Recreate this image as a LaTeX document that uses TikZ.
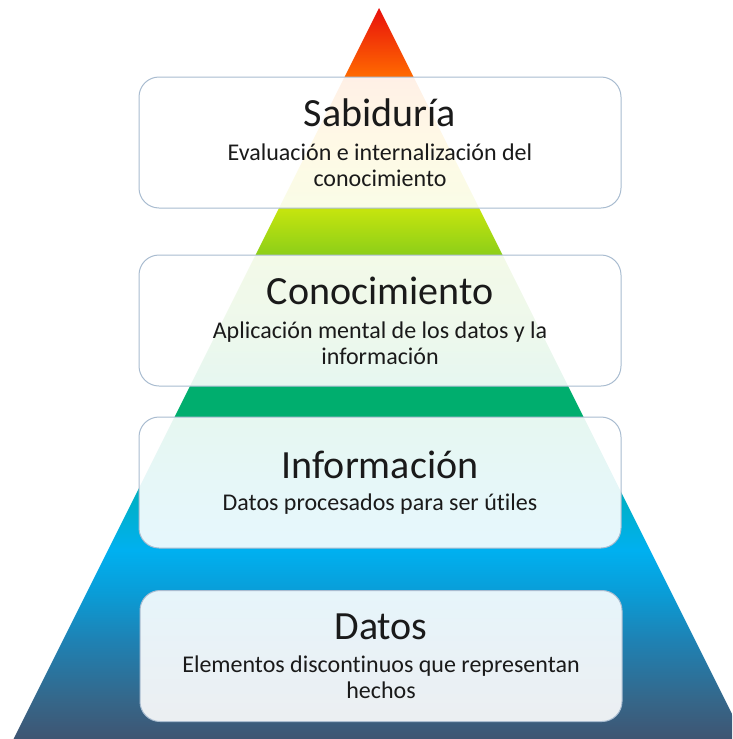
\documentclass[tikz,border=0pt]{standalone}
\usepackage{fontspec}
\setmainfont{Carlito}[Ligatures=NoCommon]
\usepackage{xcolor}
\usetikzlibrary{calc}
\tikzset{>=latex}

\definecolor{boxline}{HTML}{A9BCD0}
\definecolor{boxtext}{HTML}{1A1A1A}
\definecolor{pyrA}{HTML}{3F5572}
\definecolor{pyrB}{HTML}{35678A}
\definecolor{pyrC}{HTML}{1E82B4}
\definecolor{pyrD}{HTML}{0A9CD6}
\definecolor{pyrE}{HTML}{00B0F0}
\definecolor{pyrF}{HTML}{00B0B8}
\definecolor{pyrG}{HTML}{00AE6E}
\definecolor{pyrH}{HTML}{50BE40}
\definecolor{pyrI}{HTML}{8ECF18}
\definecolor{pyrJ}{HTML}{C6E50E}
\definecolor{pyrK}{HTML}{FFD000}
\definecolor{pyrL}{HTML}{FF6A00}
\definecolor{pyrM}{HTML}{E8100C}

% bottom of pyramid at 25bp, apex at 75bp
\pgfdeclareverticalshading{pyramid}{100bp}{
  color(0bp)=(pyrA); color(25bp)=(pyrA); color(27.7bp)=(pyrB);
  color(31.8bp)=(pyrC); color(34.9bp)=(pyrD); color(37.9bp)=(pyrE);
  color(42.7bp)=(pyrF); color(47bp)=(pyrG); color(49.1bp)=(pyrG);
  color(53bp)=(pyrH); color(58.2bp)=(pyrI); color(61.3bp)=(pyrJ);
  color(65.3bp)=(pyrK); color(70.3bp)=(pyrL); color(75bp)=(pyrM);
  color(100bp)=(pyrM)}

\tikzset{
  levelbox/.style={draw=boxline, line width=1pt, rounded corners=20pt,
    fill=white, fill opacity=0.9, text opacity=1, text=boxtext,
    minimum width=482pt, minimum height=131pt, inner sep=0pt,
    align=center, font=\fontsize{24}{26}\selectfont}
}

\begin{document}
\begin{tikzpicture}[x=1pt,y=-1pt]
	\useasboundingbox (0,0) rectangle (732,739);

	% Defining pyramid corners
	\coordinate (apex) at (379,8);
	\coordinate (baseL) at (13.5,739);
	\coordinate (baseR) at (744.5,739);

	% Drawing the pyramid
	\begin{scope}
		\clip (0,0) rectangle (732,739);
		\shade[shading=pyramid] (apex) -- (baseL) -- (baseR) -- cycle;
	\end{scope}

	% Levels, top to bottom
	\node[levelbox] (sab) at (380,142.5) {{\fontsize{40}{40}\selectfont Sabiduría}\\[8pt]Evaluación e internalización del\\conocimiento};
	\node[levelbox] (con) at (380,320.5) {{\fontsize{40}{40}\selectfont Conocimiento}\\[8pt]Aplicación mental de los datos y la\\información};
	\node[levelbox] (inf) at (380,482.5) {{\fontsize{40}{40}\selectfont Información}\\[6pt]Datos procesados para ser útiles};
	\node[levelbox] (dat) at (381,656) {{\fontsize{40}{40}\selectfont Datos}\\[7pt]Elementos discontinuos que representan\\hechos};

\end{tikzpicture}
\end{document}
